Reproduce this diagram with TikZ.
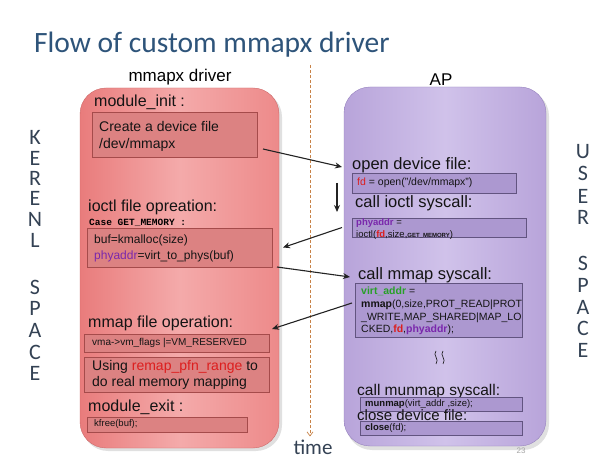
\documentclass[tikz,border=0pt]{standalone}
\usepackage{fontspec}
\setmainfont{Liberation Sans}
\newfontfamily\titlefont{Carlito}
\newfontfamily\codefont{Liberation Mono}
\usetikzlibrary{arrows.meta,calc}
\definecolor{titleblue}{RGB}{46,84,122}
\definecolor{sidegray}{RGB}{52,66,84}
\definecolor{redEdge}{RGB}{233,124,124}
\definecolor{redMid}{RGB}{244,170,170}
\definecolor{redRight}{RGB}{237,138,138}
\definecolor{redBorder}{RGB}{205,105,105}
\definecolor{redBoxFill}{RGB}{220,130,130}
\definecolor{redBoxDraw}{RGB}{165,75,75}
\definecolor{purEdge}{RGB}{184,164,218}
\definecolor{purMid}{RGB}{208,194,234}
\definecolor{purBorder}{RGB}{150,130,190}
\definecolor{purBoxFill}{RGB}{172,152,208}
\definecolor{purBoxDraw}{RGB}{98,84,128}
\definecolor{kwred}{RGB}{220,30,30}
\definecolor{kwpurple}{RGB}{122,40,172}
\definecolor{kwgreen}{RGB}{40,160,40}
\definecolor{timeline}{RGB}{200,130,70}
\definecolor{arrowgray}{RGB}{35,35,35}
\definecolor{textdark}{RGB}{20,20,20}
\tikzset{
  head/.style={anchor=west,inner sep=0pt,font=\fontsize{16}{18}\selectfont,text=textdark},
  rhead/.style={anchor=west,inner sep=0pt,font=\fontsize{16.5}{18}\selectfont,text=textdark},
  redbox/.style={draw=redBoxDraw,fill=redBoxFill,line width=0.8pt},
  purbox/.style={draw=purBoxDraw,fill=purBoxFill,line width=0.8pt},
  boxtext/.style={anchor=west,inner sep=0pt,text=textdark,align=left},
  sideletter/.style={inner sep=0pt,font=\titlefont\fontsize{22}{22}\selectfont,text=sidegray},
  flowarrow/.style={draw=arrowgray,line width=1.1pt,-{Stealth[length=7pt,width=6pt]}},
}
\begin{document}
\begin{tikzpicture}[x=1pt,y=-1pt]
\useasboundingbox (0,0) rectangle (616,462);
\fill[white] (0,0) rectangle (616,462);

% title
\node[anchor=west,inner sep=0pt,font=\titlefont\fontsize{29.5}{30}\selectfont,text=titleblue] (title) at (34,45) {Flow of custom mmapx driver};

% panels
\fill[black,opacity=0.12,rounded corners=26pt] (82,91) rectangle (282,451);
\shade[rounded corners=26pt,left color=redEdge,right color=redRight,middle color=redMid,draw=redBorder] (80,88) rectangle (279,448);
\node[inner sep=0pt,font=\fontsize{17}{18}\selectfont] (drv) at (180,77) {mmapx driver};

\fill[black,opacity=0.12,rounded corners=26pt] (346,90) rectangle (549,450);
\shade[rounded corners=26pt,left color=purEdge,right color=purEdge,middle color=purMid,draw=purBorder] (344,87) rectangle (546,446);
\node[inner sep=0pt,font=\fontsize{17}{18}\selectfont] (ap) at (441,80) {AP};

% time line
\coordinate (tstart) at (310,65);
\node[inner sep=0pt,font=\titlefont\fontsize{21}{22}\selectfont,text=sidegray] (time) at (313,447) {time};
\draw[timeline,dashed,dash pattern=on 3pt off 2pt,line width=0.7pt,-{Straight Barb[length=4pt,width=6pt]}] (tstart) -- ($(time.north)+(-3,-3)$);

% side letters
\foreach \ch/\yy [count=\i] in {K/137,E/158,R/178,E/198,N/219,L/240,S/287,P/308,A/330,C/352,E/373}{
  \node[sideletter] (kl\i) at (35,\yy) {\ch};
}
\foreach \ch/\yy [count=\i] in {U/152,S/173,E/196,R/217,S/263,P/285,A/307,C/328,E/350}{
  \node[sideletter] (ul\i) at (583,\yy) {\ch};
}

% ---------- left panel contents
\node[head] (minit) at (94,102) {module\_init :};
\draw[redbox] (92,112) rectangle (257,157);
\coordinate (box1se) at (257,157);
\node[boxtext,font=\fontsize{14}{17}\selectfont] (box1) at (99,136.5) {Create a device file\\/dev/mmapx};

\node[head] (ioctlop) at (88,207) {ioctl file opreation:};
\node[anchor=west,inner sep=0pt,font=\codefont\bfseries\fontsize{9.5}{10}\selectfont] (casegm) at (89,223) {Case GET\_MEMORY :};
\draw[redbox] (87,228) rectangle (272,267);
\coordinate (box2e) at (272,247.5);
\coordinate (box2se) at (272,267);
\node[boxtext,font=\fontsize{12}{16}\selectfont] (box2) at (94,248.5) {buf=kmalloc(size)\\\textcolor{kwpurple}{phyaddr}=virt\_to\_phys(buf)};

\node[head] (mmapop) at (88,323) {mmap file operation:};
\draw[redbox] (84,334) rectangle (269,352);
\coordinate (box3ne) at (269,334);
\node[boxtext,font=\fontsize{10}{12}\selectfont] (box3) at (92,343) {vma-{}>vm\_flags |=VM\_RESERVED};
\draw[redbox] (84,357) rectangle (269,392);
\node[boxtext,font=\fontsize{14}{16}\selectfont] (box4) at (92,375) {Using \textcolor{kwred}{remap\_pfn\_range} to\\do real memory mapping};

\node[head] (mexit) at (88,407) {module\_exit :};
\draw[redbox] (87,417) rectangle (247,432);
\node[boxtext,font=\fontsize{9.5}{11}\selectfont] (box5) at (94,424.5) {kfree(buf);};

% ---------- right panel contents
\node[rhead] (openh) at (352,165) {open device file:};
\draw[purbox] (352,173) rectangle (516,193);
\node[boxtext,font=\fontsize{10.5}{12}\selectfont] (openbox) at (357,183) {\textcolor{kwred}{fd} = open("/dev/mmapx")};

\node[rhead] (ioctlh) at (355,203) {call ioctl syscall:};
\draw[purbox] (352,218) rectangle (526,237);
\coordinate (ioctlw) at (352,227.5);
\node[boxtext,font=\fontsize{9.5}{11.5}\selectfont] (ioctlbox) at (356,229) {\textcolor{kwpurple}{\bfseries phyaddr} =\\ioctl(\textcolor{kwred}{\bfseries fd},size,{\bfseries\fontsize{6}{7}\selectfont GET\_MEMORY})};

\node[rhead] (mmaph) at (358,275) {call mmap syscall:};
\draw[purbox] (355,283) rectangle (522,337);
\coordinate (mmapw) at (355,303);
\node[boxtext,font=\fontsize{10.5}{12.6}\selectfont] (mmapbox) at (361,311) {\textcolor{kwgreen}{\bfseries virt\_addr} =\\{\bfseries mmap}(0,size,PROT\_READ|PROT\\\_WRITE,MAP\_SHARED|MAP\_LO\\CKED,\textcolor{kwred}{\bfseries fd},\textcolor{kwpurple}{\bfseries phyaddr});};

% squiggle
\draw[textdark,line width=0.6pt] (436,351) .. controls (432,355) and (440,359) .. (436,364);
\draw[textdark,line width=0.6pt] (443,351) .. controls (439,355) and (447,359) .. (443,364);

\node[rhead,font=\fontsize{15.5}{17}\selectfont] (munmaph) at (357,391) {call munmap syscall:};
\draw[purbox] (360,397) rectangle (522,411);
\node[boxtext,font=\fontsize{9.5}{11}\selectfont] (munmapbox) at (365,404.5) {{\bfseries munmap}(virt\_addr ,size);};
\node[rhead,font=\fontsize{15}{17}\selectfont] (closeh) at (357,415) {close device file:};
\draw[purbox] (360,421) rectangle (522,435);
\node[boxtext,font=\fontsize{9.5}{11}\selectfont] (closebox) at (365,428.5) {{\bfseries close}(fd);};

\node[inner sep=0pt,font=\fontsize{8}{9}\selectfont,text=gray!70] (pgnum) at (521,451) {23};

% ---------- arrows
\draw[flowarrow] ($(box1se)+(6,-8)$) -- ($(openh.west)+(-10,2)$);
\draw[flowarrow] ($(openh.west)+(-15,18)$) -- ($(ioctlh.west)+(-18,9)$);
\draw[flowarrow] ($(ioctlw)+(-10,0)$) -- ($(box2e)+(11,0)$);
\draw[flowarrow] ($(box2se)+(5,0)$) -- ($(mmaph.west)+(-8,2)$);
\draw[flowarrow] ($(mmapw)+(-3,0)$) -- ($(box3ne)+(3,-5)$);
\end{tikzpicture}
\end{document}
